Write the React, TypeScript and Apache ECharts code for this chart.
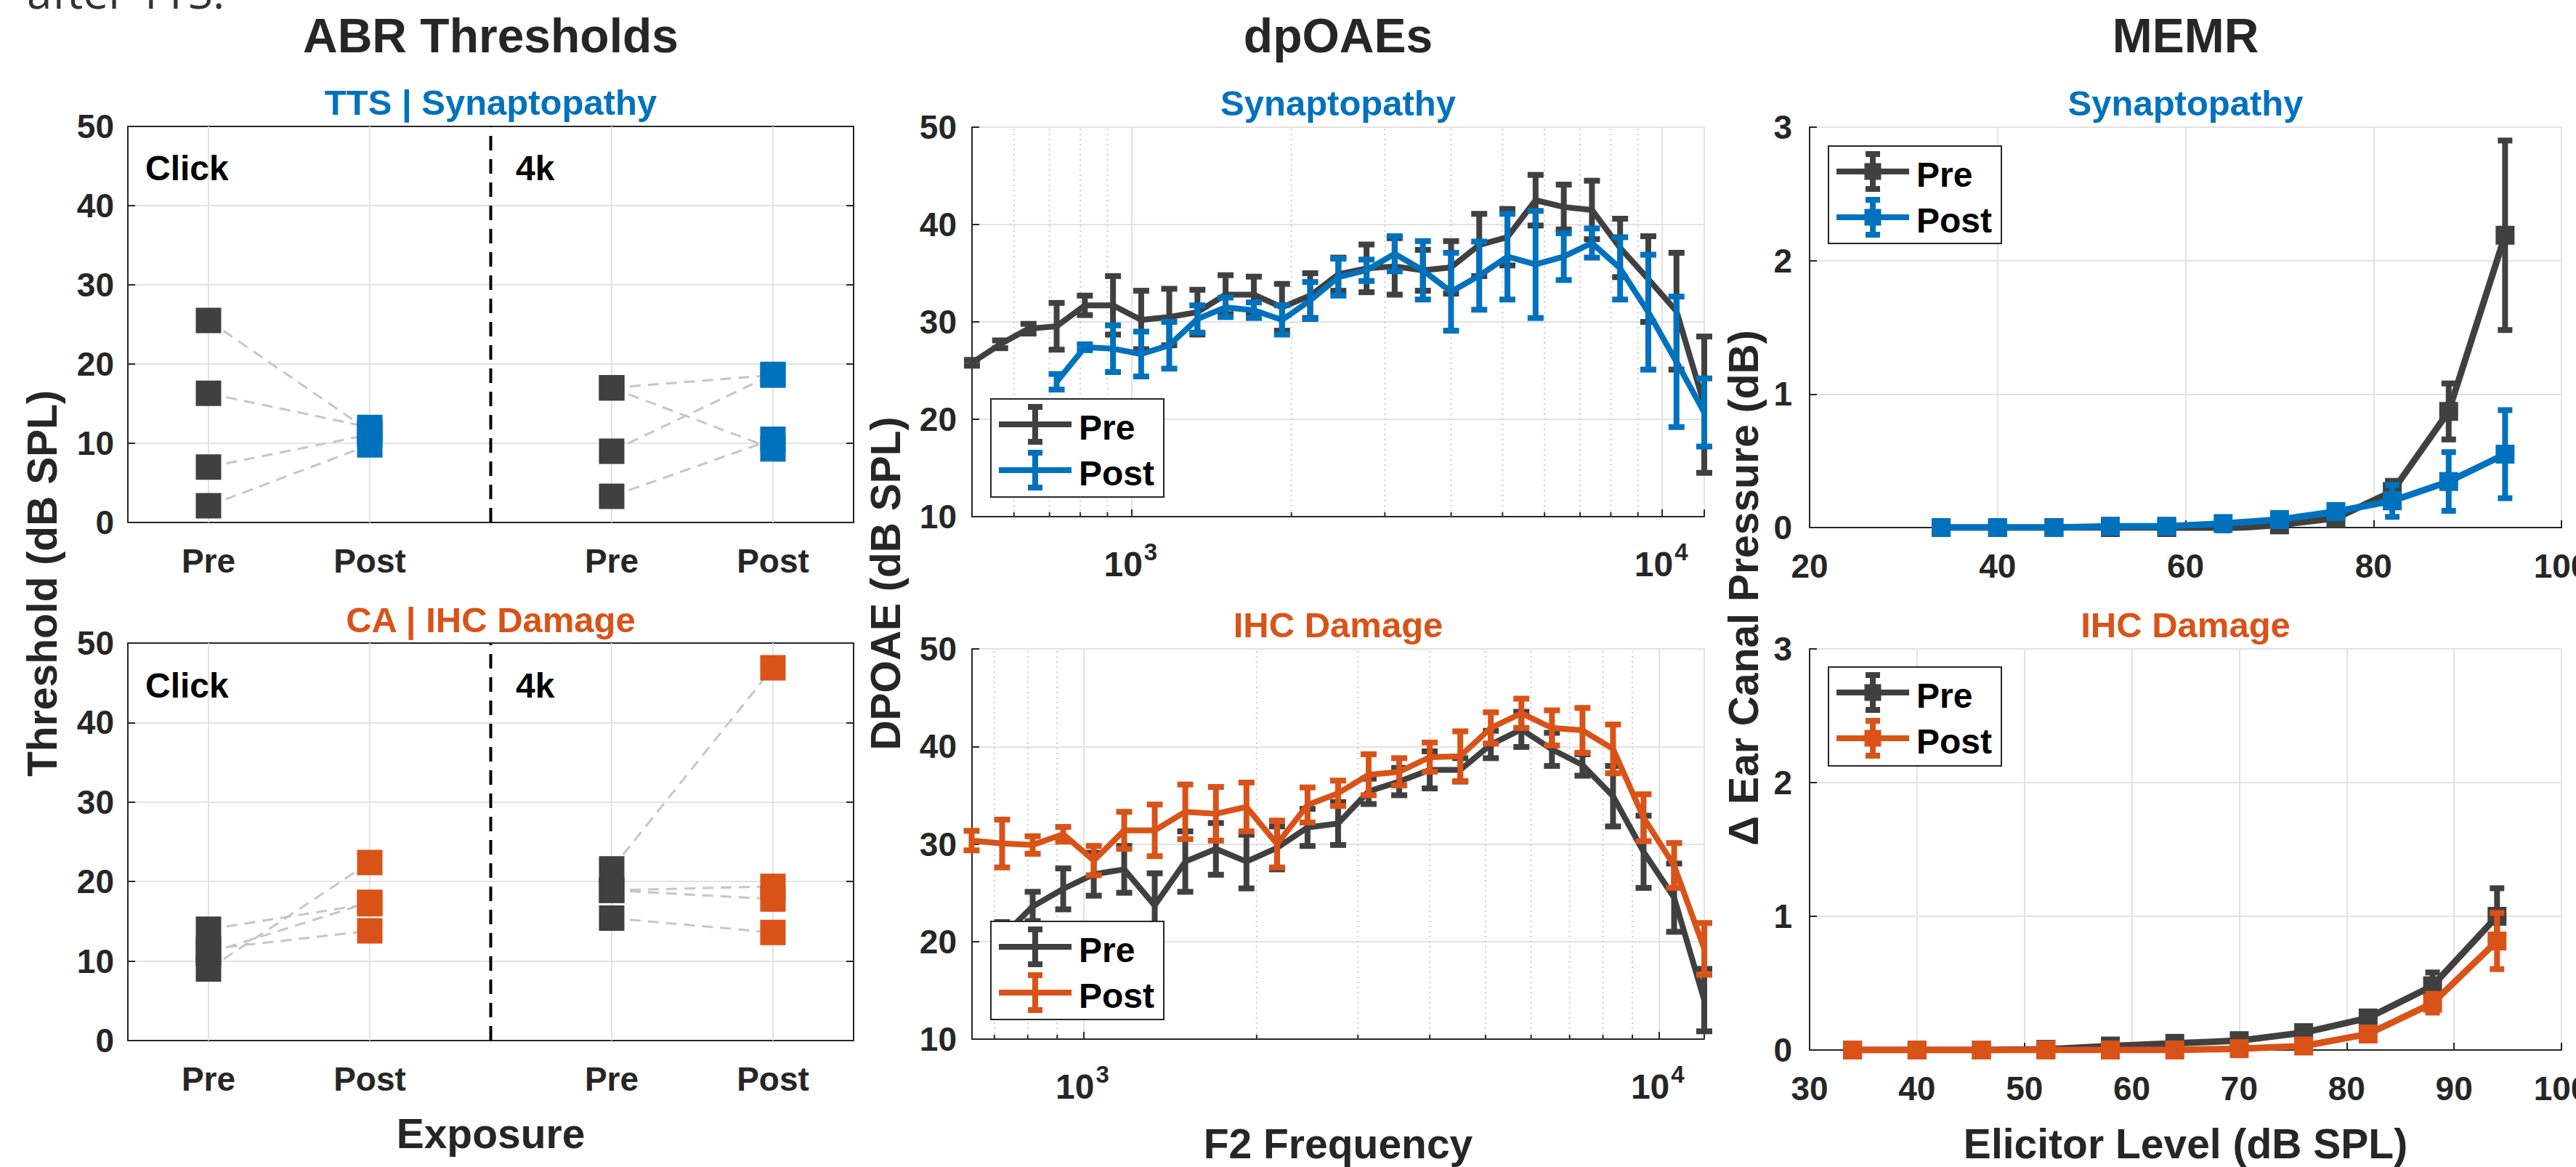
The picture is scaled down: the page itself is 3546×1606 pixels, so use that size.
import React, { useEffect, useRef } from 'react';
import * as echarts from 'echarts';

// ---------------- data ----------------
const abrTickPos = [1, 2, 3.5, 4.5];
const abrTickLabels = ['Pre', 'Post', 'Pre', 'Post'];
const abrDividerX = 2.75;

const ttsClickPre = [25.5, 16.3, 7.0, 2.1];
const ttsClickPost = [11.5, 12.0, 11.1, 9.8];
const tts4kPre = [17.0, 17.0, 9.0, 3.3];
const tts4kPost = [18.6, 9.3, 18.7, 10.5];
const caClickPre = [14.0, 11.5, 11.0, 9.0];
const caClickPost = [17.2, 13.8, 17.4, 22.4];
const ca4kPre = [21.6, 18.9, 18.9, 15.4];
const ca4kPost = [46.9, 19.4, 17.8, 13.6];

const dpFreqs = [500, 565, 639, 722, 816, 922, 1042, 1177, 1330, 1503, 1699, 1920, 2170, 2452, 2771, 3131, 3539, 3999, 4519, 5107, 5771, 6522, 7370, 8329, 9412, 10637, 12000];
const dpMinorFreqs = [600, 700, 800, 900, 2000, 3000, 4000, 5000, 6000, 7000, 8000, 9000];
const dpDecades = [1000, 10000];
const dpDecadeBase = '10';
const dpDecadeExp = ['3', '4'];
const synPreMean = [25.8, 27.7, 29.3, 29.55, 31.7, 31.7, 30.2, 30.5, 31.0, 32.8, 32.8, 31.5, 32.7, 34.9, 35.5, 35.7, 35.3, 35.6, 37.9, 38.7, 42.5, 41.8, 41.5, 37.6, 34.4, 31.1, 21.5];
const synPreErr = [0.3, 0.4, 0.5, 2.4, 1.0, 3.0, 3.0, 2.9, 2.3, 2.0, 1.85, 2.4, 2.3, 1.7, 2.45, 2.9, 2.1, 2.7, 3.2, 2.9, 2.6, 2.3, 3.0, 3.0, 4.4, 6.0, 7.0];
const synPostMean = [null, null, null, 23.85, 27.4, 27.25, 26.7, 27.6, 30.3, 31.5, 31.2, 30.2, 32.2, 34.6, 35.3, 37.0, 35.3, 33.1, 34.75, 36.7, 35.9, 36.7, 38.1, 35.5, 31.0, 25.9, 20.7];
const synPostErr = [null, null, null, 0.8, 0.3, 2.4, 2.3, 2.4, 1.4, 1.0, 0.8, 1.5, 1.9, 1.9, 1.1, 1.8, 3.0, 4.0, 3.5, 4.4, 5.5, 2.4, 1.5, 3.2, 5.9, 6.7, 3.5];

const ihcFreqs = [639, 722, 816, 922, 1042, 1177, 1330, 1503, 1699, 1920, 2170, 2452, 2771, 3131, 3539, 3999, 4519, 5107, 5771, 6522, 7370, 8329, 9412, 10637, 12000];
const ihcPreMean = [null, 20.5, 23.6, 25.4, 26.9, 27.4, 23.7, 28.2, 29.5, 28.2, 29.6, 31.7, 32.1, 35.4, 36.4, 37.6, 37.6, 40.2, 41.75, 39.7, 38.1, 34.9, 29.2, 24.5, 14.0];
const ihcPreErr = [null, 1.5, 1.5, 2.1, 2.2, 2.4, 3.3, 3.1, 2.65, 2.75, 2.2, 1.9, 2.2, 1.3, 1.4, 1.9, 1.2, 1.4, 1.8, 1.7, 1.1, 3.1, 3.7, 3.5, 3.2];
const ihcPostMean = [30.35, 30.05, 29.9, 31.0, 28.3, 31.4, 31.4, 33.3, 33.1, 33.8, 30.0, 34.0, 35.2, 37.1, 37.4, 38.9, 39.0, 41.9, 43.4, 41.9, 41.65, 39.75, 32.7, 27.8, 19.25];
const ihcPostErr = [1.0, 2.45, 0.9, 0.75, 1.5, 1.9, 2.65, 2.8, 2.75, 2.5, 2.4, 1.8, 1.3, 2.1, 1.4, 1.5, 2.55, 1.6, 1.5, 1.8, 2.3, 2.5, 2.4, 2.3, 2.65];

const memrLevels = [34, 40, 46, 52, 58, 64, 70, 76, 82, 88, 94];
const synMemrPre = [0.0, 0.0, 0.0, 0.0, 0.0, -0.01, 0.02, 0.07, 0.27, 0.87, 2.19];
const synMemrPreErr = [0.005, 0.005, 0.005, 0.005, 0.01, 0.01, 0.01, 0.02, 0.08, 0.21, 0.71];
const synMemrPost = [0.0, 0.0, 0.0, 0.01, 0.01, 0.03, 0.06, 0.12, 0.2, 0.345, 0.55];
const synMemrPostErr = [0.005, 0.005, 0.005, 0.005, 0.01, 0.01, 0.01, 0.02, 0.12, 0.22, 0.33];
const ihcMemrPre = [0.0, 0.0, 0.0, 0.005, 0.03, 0.05, 0.07, 0.13, 0.24, 0.48, 1.0];
const ihcMemrPreErr = [0.005, 0.005, 0.005, 0.005, 0.01, 0.01, 0.01, 0.02, 0.04, 0.1, 0.21];
const ihcMemrPost = [0.0, 0.0, 0.0, 0.0, 0.0, 0.0, 0.01, 0.03, 0.12, 0.35, 0.815];
const ihcMemrPostErr = [0.005, 0.005, 0.005, 0.005, 0.005, 0.005, 0.01, 0.01, 0.03, 0.07, 0.21];

// ---------------- styles ----------------
const DARK = '#404040';
const BLUE = '#0072BD';
const ORANGE = '#D95319';
const AXIS = '#262626';
const GRIDC = '#e2e2e2';
const FONT = "'Liberation Sans', Arial, Helvetica, sans-serif";

const grids = [
  { left: 176, top: 174, width: 999, height: 545 },
  { left: 176, top: 885, width: 999, height: 547 },
  { left: 1338, top: 175, width: 1008, height: 536 },
  { left: 1338, top: 893, width: 1008, height: 537 },
  { left: 2491, top: 175, width: 1035, height: 551 },
  { left: 2491, top: 893, width: 1035, height: 552 },
].map((g) => ({ ...g, containLabel: false, outerBoundsMode: 'none' }));

const tickFont = { fontFamily: FONT, fontWeight: 'bold', fontSize: 46, color: AXIS };
const axisLine = { show: true, onZero: false, lineStyle: { color: AXIS, width: 2 } };
const tickIn = (len = 10) => ({ show: true, inside: true, length: len, lineStyle: { color: AXIS, width: 2 } });
const grid2 = { show: true, lineStyle: { color: GRIDC, width: 2 } };

const abrX = (gi, top) => ({
  type: 'value', gridIndex: gi, min: 0.5, max: 5, position: top ? 'top' : 'bottom',
  axisLine, splitLine: { show: false },
  axisTick: { ...tickIn(), customValues: abrTickPos },
  axisLabel: top ? { show: false } : {
    ...tickFont, margin: 30, customValues: abrTickPos,
    formatter: (v) => { const i = abrTickPos.findIndex((p) => Math.abs(p - v) < 1e-6); return i >= 0 ? abrTickLabels[i] : ''; },
  },
});
const abrY = (gi, right) => ({
  type: 'value', gridIndex: gi, min: 0, max: 50, interval: 10, position: right ? 'right' : 'left',
  axisLine, axisTick: tickIn(), splitLine: right ? { show: false } : grid2,
  axisLabel: right ? { show: false } : { ...tickFont, margin: 19 },
});
const dpX = (gi, min) => ({
  type: 'log', logBase: 10, gridIndex: gi, min, max: 12000, position: 'bottom',
  axisLine, axisTick: tickIn(), splitLine: grid2,
  axisLabel: { show: false },
});
const dpY = (gi) => ({
  type: 'value', gridIndex: gi, min: 10, max: 50, interval: 10, position: 'left',
  axisLine, axisTick: tickIn(), splitLine: grid2, axisLabel: { ...tickFont, margin: 21 },
});
const memrX = (gi, min, interval) => ({
  type: 'value', gridIndex: gi, min, max: 100, interval, position: 'bottom',
  axisLine, axisTick: tickIn(), splitLine: grid2, axisLabel: { ...tickFont, margin: 30 },
});
const memrY = (gi) => ({
  type: 'value', gridIndex: gi, min: 0, max: 3, interval: 1, position: 'left',
  axisLine, axisTick: tickIn(), splitLine: grid2, axisLabel: { ...tickFont, margin: 24 },
});

// ---------------- render helpers ----------------
const errRender = (color, capHalf, width) => (params, api) => {
  const x = api.value(0); const lo = api.value(1); const hi = api.value(2);
  const p1 = api.coord([x, lo]); const p2 = api.coord([x, hi]);
  const style = { stroke: color, lineWidth: width, fill: null };
  return {
    type: 'group', children: [
      { type: 'line', shape: { x1: p1[0], y1: p1[1], x2: p2[0], y2: p2[1] }, style },
      { type: 'line', shape: { x1: p1[0] - capHalf, y1: p1[1], x2: p1[0] + capHalf, y2: p1[1] }, style },
      { type: 'line', shape: { x1: p2[0] - capHalf, y1: p2[1], x2: p2[0] + capHalf, y2: p2[1] }, style },
    ],
  };
};

const errSeries = (xi, yi, xs, mean, err, color, capHalf, z) => ({
  type: 'custom', xAxisIndex: xi, yAxisIndex: yi, z, silent: true, clip: false,
  dimensions: ['x', 'lo', 'hi'], encode: { x: 0, y: [1, 2] },
  data: xs.map((x, i) => (mean[i] == null ? null : [x, mean[i] - err[i], mean[i] + err[i]])).filter(Boolean),
  renderItem: errRender(color, capHalf, 8),
});

const lineSeries = (xi, yi, xs, mean, color, z, marker) => ({
  type: 'line', xAxisIndex: xi, yAxisIndex: yi, z, silent: true,
  data: xs.map((x, i) => (mean[i] == null ? null : [x, mean[i]])).filter(Boolean),
  symbol: marker ? 'rect' : 'none', symbolSize: 26,
  itemStyle: { color }, lineStyle: { color, width: marker ? 9 : 8 },
});

const vGridSeries = (xi, yi, xs, ymin, ymax, dotted, minorTick) => ({
  type: 'custom', xAxisIndex: xi, yAxisIndex: yi, z: 1, silent: true,
  data: xs.map((x) => [x]),
  renderItem: (params, api) => {
    const x = api.value(0);
    const a = api.coord([x, ymin]); const b = api.coord([x, ymax]);
    const children = [{ type: 'line', shape: { x1: a[0], y1: a[1], x2: b[0], y2: b[1] },
      style: { stroke: dotted ? '#cdcdcd' : GRIDC, lineWidth: 2, lineDash: dotted ? [2, 5] : null } }];
    if (minorTick) children.push({ type: 'line', shape: { x1: a[0], y1: a[1], x2: a[0], y2: a[1] - 6 }, style: { stroke: AXIS, lineWidth: 2 } });
    return { type: 'group', children };
  },
});

const pairSeries = (xi, yi, pre1, post1, pre2, post2) => ({
  type: 'custom', xAxisIndex: xi, yAxisIndex: yi, z: 3, silent: true,
  data: [
    ...pre1.map((v, i) => [abrTickPos[0], v, abrTickPos[1], post1[i]]),
    ...pre2.map((v, i) => [abrTickPos[2], v, abrTickPos[3], post2[i]]),
  ],
  renderItem: (params, api) => {
    const a = api.coord([api.value(0), api.value(1)]); const b = api.coord([api.value(2), api.value(3)]);
    return { type: 'line', shape: { x1: a[0], y1: a[1], x2: b[0], y2: b[1] }, style: { stroke: '#c6c6c6', lineWidth: 3, lineDash: [15, 10] } };
  },
});

const scatterSeries = (xi, yi, xa, va, xb, vb, color, z) => ({
  type: 'scatter', xAxisIndex: xi, yAxisIndex: yi, z, silent: true, symbol: 'rect', symbolSize: 35,
  itemStyle: { color, opacity: 1 },
  data: [...va.map((v) => [xa, v]), ...vb.map((v) => [xb, v])],
});

const dividerSeries = (xi, yi) => ({
  type: 'line', xAxisIndex: xi, yAxisIndex: yi, z: 2, silent: true, symbol: 'none',
  data: [[abrDividerX, 0], [abrDividerX, 50]],
  lineStyle: { color: '#000', width: 4, type: [20, 12] },
});

// ---------------- graphics ----------------
const txt = (text, x, y, size, color, align = 'center', rotation = 0, family = FONT, weight = 'bold') => ({
  type: 'text', x, y, rotation, z: 50, silent: true,
  style: { text, fill: color, fontSize: size, fontWeight: weight, fontFamily: family, align, verticalAlign: 'middle' },
});

const legend = (x, y, w, h, items, marker) => {
  const els = [{ type: 'rect', z: 100, silent: true, shape: { x, y, width: w, height: h }, style: { fill: '#fff', stroke: AXIS, lineWidth: 2 } }];
  items.forEach((it, i) => {
    const cy = y + 35 + i * 63;
    const ex = x + 61;
    const s = { stroke: it.color, lineWidth: 8 };
    els.push({ type: 'line', z: 101, silent: true, shape: { x1: x + 11, y1: cy, x2: x + 111, y2: cy }, style: s });
    els.push({ type: 'line', z: 101, silent: true, shape: { x1: ex, y1: cy - 24, x2: ex, y2: cy + 24 }, style: s });
    els.push({ type: 'line', z: 101, silent: true, shape: { x1: ex - 10, y1: cy - 24, x2: ex + 10, y2: cy - 24 }, style: s });
    els.push({ type: 'line', z: 101, silent: true, shape: { x1: ex - 10, y1: cy + 24, x2: ex + 10, y2: cy + 24 }, style: s });
    if (marker) els.push({ type: 'rect', z: 102, silent: true, shape: { x: ex - 11.5, y: cy - 11.5, width: 23, height: 23 }, style: { fill: it.color } });
    els.push({ type: 'text', z: 103, silent: true, x: x + 121, y: cy + 4, style: { text: it.label, fill: '#000', fontSize: 48, fontWeight: 'bold', fontFamily: FONT, align: 'left', verticalAlign: 'middle' } });
  });
  return els;
};

const graphics = [
  txt('after TTS.', 37, -12, 62, '#333', 'left', 0, "'Open Sans', 'Noto Sans', sans-serif", 'normal'),
  txt('ABR Thresholds', 675.5, 49, 66, AXIS),
  txt('dpOAEs', 1842, 49, 66, AXIS),
  txt('MEMR', 3008.5, 49, 66, AXIS),
  txt('TTS | Synaptopathy', 675.5, 141, 49, BLUE),
  txt('Synaptopathy', 1842, 142, 49, BLUE),
  txt('Synaptopathy', 3008.5, 142, 49, BLUE),
  txt('CA | IHC Damage', 675.5, 853, 49, ORANGE),
  txt('IHC Damage', 1842, 860, 49, ORANGE),
  txt('IHC Damage', 3008.5, 860, 49, ORANGE),
  txt('Click', 200, 231, 48, '#000', 'left'),
  txt('4k', 710, 231, 48, '#000', 'left'),
  txt('Click', 200, 943, 48, '#000', 'left'),
  txt('4k', 710, 943, 48, '#000', 'left'),
  txt('Exposure', 675.5, 1560, 57, AXIS),
  txt('F2 Frequency', 1842, 1574, 57, AXIS),
  txt('Elicitor Level (dB SPL)', 3008.5, 1574, 57, AXIS),
  txt('Threshold (dB SPL)', 57.5, 803, 57, AXIS, 'center', Math.PI / 2),
  txt('DPOAE (dB SPL)', 1219, 803, 57, AXIS, 'center', Math.PI / 2),
  txt('\u0394 Ear Canal Pressure (dB)', 2400, 809, 57, AXIS, 'center', Math.PI / 2),
  ...legend(1364, 549, 238, 135, [{ label: 'Pre', color: DARK }, { label: 'Post', color: BLUE }], false),
  ...legend(1364, 1268, 238, 135, [{ label: 'Pre', color: DARK }, { label: 'Post', color: ORANGE }], false),
  ...legend(2517, 201, 238, 134, [{ label: 'Pre', color: DARK }, { label: 'Post', color: BLUE }], true),
  ...legend(2517, 918, 238, 136, [{ label: 'Pre', color: DARK }, { label: 'Post', color: ORANGE }], true),
];

const option = {
  animation: false,
  backgroundColor: '#ffffff',
  textStyle: { fontFamily: FONT },
  grid: grids,
  xAxis: [abrX(0, false), abrX(0, true), abrX(1, false), abrX(1, true), dpX(2, 500), dpX(3, 640), memrX(4, 20, 20), memrX(5, 30, 10)],
  yAxis: [abrY(0, false), abrY(0, true), abrY(1, false), abrY(1, true), dpY(2), dpY(3), memrY(4), memrY(5)],
  series: [
    // ABR top
    vGridSeries(0, 0, abrTickPos, 0, 50, false, false),
    dividerSeries(0, 0),
    pairSeries(0, 0, ttsClickPre, ttsClickPost, tts4kPre, tts4kPost),
    scatterSeries(0, 0, abrTickPos[0], ttsClickPre, abrTickPos[2], tts4kPre, DARK, 4),
    scatterSeries(0, 0, abrTickPos[1], ttsClickPost, abrTickPos[3], tts4kPost, BLUE, 5),
    // ABR bottom
    vGridSeries(2, 2, abrTickPos, 0, 50, false, false),
    dividerSeries(2, 2),
    pairSeries(2, 2, caClickPre, caClickPost, ca4kPre, ca4kPost),
    scatterSeries(2, 2, abrTickPos[0], caClickPre, abrTickPos[2], ca4kPre, DARK, 4),
    scatterSeries(2, 2, abrTickPos[1], caClickPost, abrTickPos[3], ca4kPost, ORANGE, 5),
    // dpOAE top
    vGridSeries(4, 4, dpMinorFreqs, 10, 50, true, true),
    errSeries(4, 4, dpFreqs, synPreMean, synPreErr, DARK, 11, 4),
    lineSeries(4, 4, dpFreqs, synPreMean, DARK, 5, false),
    errSeries(4, 4, dpFreqs, synPostMean, synPostErr, BLUE, 11, 6),
    lineSeries(4, 4, dpFreqs, synPostMean, BLUE, 7, false),
    // dpOAE bottom
    vGridSeries(5, 5, dpMinorFreqs.filter((f) => f > 640), 10, 50, true, true),
    errSeries(5, 5, ihcFreqs, ihcPreMean, ihcPreErr, DARK, 11, 4),
    lineSeries(5, 5, ihcFreqs, ihcPreMean, DARK, 5, false),
    errSeries(5, 5, ihcFreqs, ihcPostMean, ihcPostErr, ORANGE, 11, 6),
    lineSeries(5, 5, ihcFreqs, ihcPostMean, ORANGE, 7, false),
    // MEMR top
    errSeries(6, 6, memrLevels, synMemrPre, synMemrPreErr, DARK, 10, 4),
    lineSeries(6, 6, memrLevels, synMemrPre, DARK, 5, true),
    errSeries(6, 6, memrLevels, synMemrPost, synMemrPostErr, BLUE, 10, 6),
    lineSeries(6, 6, memrLevels, synMemrPost, BLUE, 7, true),
    // MEMR bottom
    errSeries(7, 7, memrLevels, ihcMemrPre, ihcMemrPreErr, DARK, 10, 4),
    lineSeries(7, 7, memrLevels, ihcMemrPre, DARK, 5, true),
    errSeries(7, 7, memrLevels, ihcMemrPost, ihcMemrPostErr, ORANGE, 10, 6),
    lineSeries(7, 7, memrLevels, ihcMemrPost, ORANGE, 7, true),
  ],
  graphic: { elements: graphics },
};

export default function App() {
  const ref = useRef(null);
  useEffect(() => {
    const chart = echarts.init(ref.current, null, { renderer: 'svg', width: 3546, height: 1606 });
    chart.setOption(option as any);
    // log-axis decade labels (10^3, 10^4), positioned through the axes' own scales
    const decadeLabels = [];
    [4, 5].forEach((ai) => {
      const yPix = chart.convertToPixel({ yAxisIndex: ai } as any, 10) as number;
      dpDecades.forEach((f, k) => {
        const xPix = chart.convertToPixel({ xAxisIndex: ai } as any, f) as number;
        decadeLabels.push(txt(dpDecadeBase, xPix + 15, yPix + 65, 48, AXIS, 'right'));
        decadeLabels.push(txt(dpDecadeExp[k], xPix + 17, yPix + 48, 33, AXIS, 'left'));
      });
    });
    chart.setOption({ graphic: { elements: [...graphics, ...decadeLabels] } } as any);
    return () => chart.dispose();
  }, []);
  return (
    <div
      ref={ref}
      style={{ position: 'absolute', left: 0, top: 0, width: 3546, height: 1606, background: '#fff' }}
    />
  );
}
